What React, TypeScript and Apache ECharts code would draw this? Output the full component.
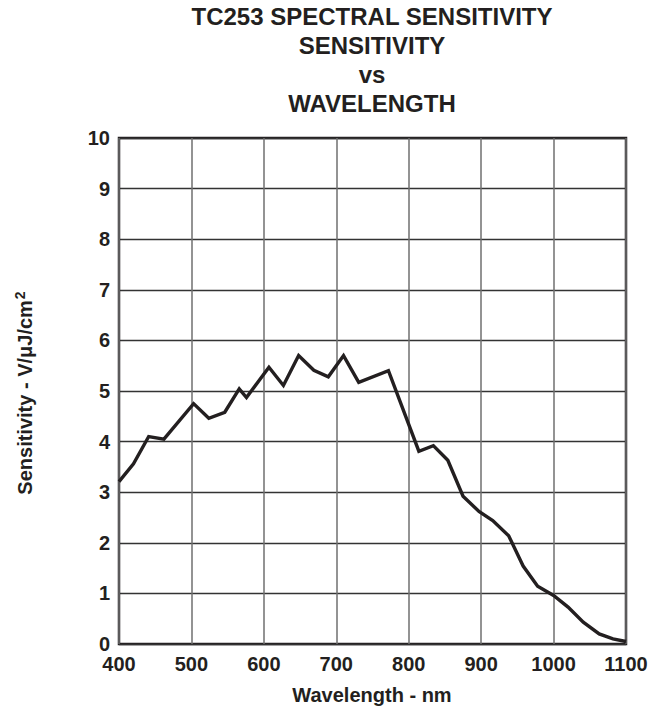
import React, { useEffect, useRef } from "react";
import * as echarts from "echarts";

const titleLines = ["TC253 SPECTRAL SENSITIVITY", "SENSITIVITY", "vs", "WAVELENGTH"];
const xAxisName = "Wavelength - nm";
const yAxisName = "Sensitivity - V/μJ/cm";
const wavelengths = [400, 420, 441, 462, 503, 524, 546, 566, 576, 607, 627, 648, 669, 689, 710, 731, 772, 814, 834, 854, 875, 897, 916, 938, 958, 978, 1000, 1020, 1041, 1063, 1082, 1100];
const sensitivity = [3.21, 3.56, 4.1, 4.05, 4.75, 4.46, 4.58, 5.04, 4.87, 5.47, 5.11, 5.7, 5.41, 5.28, 5.7, 5.17, 5.4, 3.81, 3.92, 3.63, 2.92, 2.62, 2.44, 2.14, 1.54, 1.14, 0.96, 0.73, 0.43, 0.2, 0.1, 0.05];

const INK = "#231f20";
const FONT = "Liberation Sans, Arial, sans-serif";

export default function App() {
  const ref = useRef<HTMLDivElement>(null);
  useEffect(() => {
    if (!ref.current) return;
    const chart = echarts.init(ref.current, null, { renderer: "svg" });
    const data = wavelengths.map((w, i) => [w, sensitivity[i]]);
    const titleY = [16, 45, 74, 103];
    chart.setOption({
      animation: false,
      backgroundColor: "#ffffff",
      grid: {
        left: 119,
        top: 138,
        width: 507,
        height: 506,
        show: true,
        borderColor: INK,
        borderWidth: 2.5,
        backgroundColor: "transparent",
      },
      xAxis: {
        type: "value",
        min: 400,
        max: 1100,
        interval: 100,
        axisLine: { show: false },
        axisTick: { show: false },
        axisLabel: {
          color: INK,
          fontSize: 20,
          fontWeight: "bold",
          fontFamily: FONT,
          margin: 10,
          formatter: (v: number) => String(v),
        },
        splitLine: { show: true, lineStyle: { color: "#6f6f6f", width: 1.5 } },
      },
      yAxis: {
        type: "value",
        min: 0,
        max: 10,
        interval: 1,
        axisLine: { show: false },
        axisTick: { show: false },
        axisLabel: {
          color: INK,
          fontSize: 20,
          fontWeight: "bold",
          fontFamily: FONT,
          margin: 9,
          formatter: (v: number) => String(v),
        },
        splitLine: { show: true, lineStyle: { color: "#333333", width: 1.3 } },
      },
      series: [
        {
          type: "line",
          data,
          symbol: "none",
          lineStyle: { color: INK, width: 3.4, join: "miter" },
          z: 5,
        },
      ],
      graphic: [
        ...titleLines.map((t, i) => ({
          type: "text",
          x: 372,
          y: titleY[i],
          style: {
            text: t,
            fill: INK,
            font: `bold 24px ${FONT}`,
            textAlign: "center",
            textVerticalAlign: "middle",
          },
        })),
        {
          type: "text",
          x: 372,
          y: 695,
          style: {
            text: xAxisName,
            fill: INK,
            font: `bold 20px ${FONT}`,
            textAlign: "center",
            textVerticalAlign: "middle",
          },
        },
        {
          type: "text",
          x: 25,
          y: 393,
          rotation: Math.PI / 2,
          style: {
            text: `{a|${yAxisName}}{b|2}`,
            textAlign: "center",
            textVerticalAlign: "middle",
            rich: {
              a: { fontSize: 20, fontWeight: "bold", fontFamily: FONT, fill: INK, color: INK },
              b: { fontSize: 14, fontWeight: "bold", fontFamily: FONT, fill: INK, color: INK, padding: [0, 0, 10, 1] },
            },
          },
        },
      ],
    });
    return () => chart.dispose();
  }, []);
  return <div ref={ref} style={{ position: "fixed", left: 0, top: 0, width: 657, height: 713 }} />;
}
